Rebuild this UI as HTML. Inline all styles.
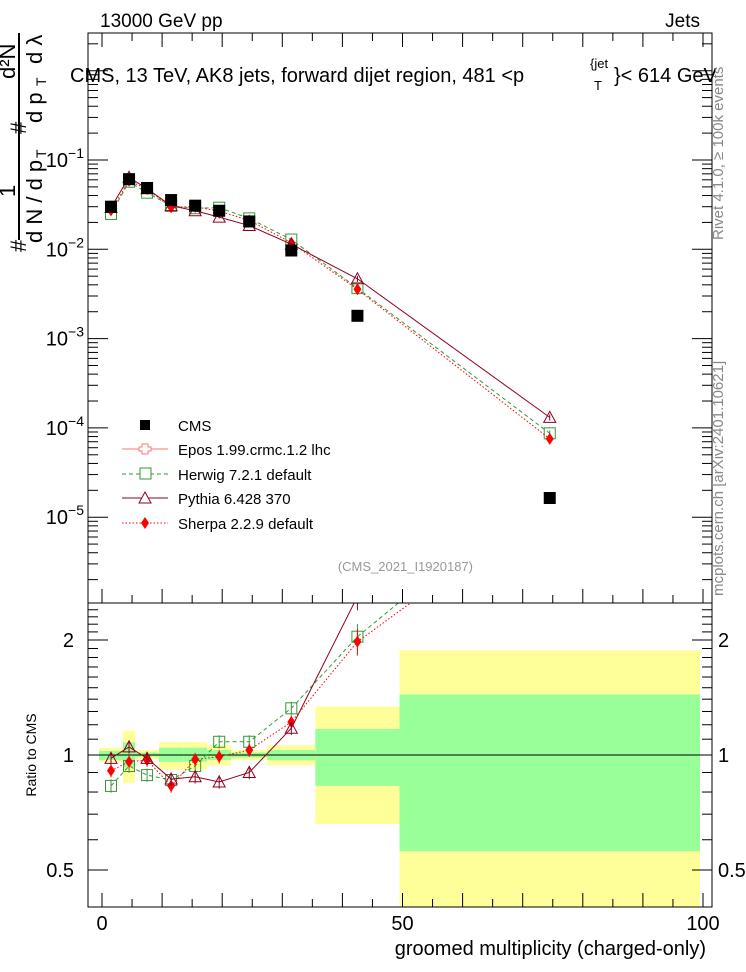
<!DOCTYPE html>
<html><head><meta charset="utf-8"><style>
html,body{margin:0;padding:0;background:#fff;}
svg{display:block;font-family:"Liberation Sans",sans-serif;}
</style></head><body>
<svg id="c" width="746" height="972" viewBox="0 0 746 972" xmlns="http://www.w3.org/2000/svg">
<defs>
<clipPath id="cm"><rect x="88" y="33" width="624" height="570"/></clipPath>
<clipPath id="cr"><rect x="88" y="603" width="624" height="304"/></clipPath>
</defs>
<text x="100" y="27" font-size="19">13000 GeV pp</text>
<text x="700" y="27" font-size="19" text-anchor="end">Jets</text>
<g id="bands"></g>
<g id="main"></g>
<g id="ratio"></g>
<rect x="88" y="33" width="624" height="570" fill="none" stroke="#000" stroke-width="1"/>
<rect x="88" y="603" width="624" height="304" fill="none" stroke="#000" stroke-width="1"/>
<g id="axes"></g>
<text x="70" y="82" font-size="20">CMS, 13 TeV, AK8 jets, forward dijet region, 481 &lt;p</text>
<text x="590" y="68" font-size="13">{jet</text>
<text x="594" y="90" font-size="13">T</text>
<text x="614" y="82" font-size="20">}&lt; 614 GeV</text>
<g font-size="22">
<line x1="19" y1="240" x2="19" y2="33" stroke="#000" stroke-width="2"/>
<text transform="translate(26,252) rotate(-90)">#</text>
<text transform="translate(15,197) rotate(-90)">1</text>
<text transform="translate(42,243) rotate(-90)">d N / d p</text>
<text transform="translate(46,158) rotate(-90)" font-size="14">T</text>
<text transform="translate(26,134) rotate(-90)">#</text>
<text transform="translate(15,79) rotate(-90)">d²N</text>
<text transform="translate(42,123) rotate(-90)">d p</text>
<text transform="translate(46,86) rotate(-90)" font-size="14">T</text>
<text transform="translate(42,64) rotate(-90)">d λ</text>
</g>
<text transform="translate(36,755) rotate(-90)" font-size="14" text-anchor="middle">Ratio to CMS</text>
<text x="706" y="955" font-size="20" text-anchor="end">groomed multiplicity (charged-only)</text>
<text transform="translate(723,240) rotate(-90)" font-size="15" fill="#888">Rivet 4.1.0, ≥ 100k events</text>
<text transform="translate(723,596) rotate(-90)" font-size="15" fill="#888">mcplots.cern.ch [arXiv:2401.10621]</text>
<g font-size="15">
<rect x="140" y="420" width="10" height="10" fill="#000"/>
<text x="178" y="431">CMS</text>
<line x1="122" y1="449" x2="168" y2="449" stroke="#f77"/>
<path d="M142,444h6v3h3v4h-3v3h-6v-3h-3v-4h3z" fill="#fff" stroke="#f77"/>
<text x="178" y="455">Epos 1.99.crmc.1.2 lhc</text>
<line x1="122" y1="474" x2="168" y2="474" stroke="#393" stroke-dasharray="4,3"/>
<rect x="140" y="468" width="11" height="11" fill="#fff" stroke="#393"/>
<text x="178" y="480">Herwig 7.2.1 default</text>
<line x1="122" y1="498" x2="168" y2="498" stroke="#900020"/>
<path d="M145,492 L151,503 L139,503 Z" fill="#fff" stroke="#900020"/>
<text x="178" y="504">Pythia 6.428 370</text>
<line x1="122" y1="523" x2="168" y2="523" stroke="#f00" stroke-dasharray="1.5,2"/>
<path d="M145,517 L149,523 L145,529 L141,523 Z" fill="#f00"/>
<text x="178" y="529">Sherpa 2.2.9 default</text>
</g>
<text x="473" y="571" font-size="13" fill="#999" text-anchor="end">(CMS_2021_I1920187)</text>
</svg>
<script>
const xCenters = [1.5,4.5,7.5,11.5,15.5,19.5,24.5,31.5,42.5,74.5];
const binEdges = [-0.5,3.5,5.5,9.5,13.5,17.5,21.5,27.5,35.5,49.5,99.5];
const cmsValues = [0.030,0.061,0.0486,0.0356,0.0308,0.027,0.0205,0.0097,0.0018,1.64e-5];
const herwigRatio = [0.83,0.936,0.886,0.86,0.936,1.083,1.083,1.325,2.04,5.3];
const pythiaRatio = [0.98,1.05,0.98,0.865,0.877,0.85,0.90,1.175,2.6,8.0];
const sherpaRatio = [0.91,0.96,0.97,0.83,0.974,0.99,1.03,1.22,1.98,4.6];
const yellowHi = [1.045,1.16,1.03,1.08,1.08,1.06,1.03,1.06,1.34,1.88];
const yellowLo = [0.96,0.845,0.975,0.917,0.917,0.94,0.97,0.94,0.66,0.35];
const greenHi = [1.025,1.08,1.015,1.045,1.045,1.03,1.015,1.03,1.17,1.44];
const greenLo = [0.97,0.93,0.99,0.96,0.96,0.97,0.985,0.97,0.83,0.56];
const xTickLabels = [0,50,100];
const mainTickExp = [-5,-4,-3,-2,-1];
const ratioTickLabels = [0.5,1,2];

const NS="http://www.w3.org/2000/svg";
function xs(v){return 102+v*6.01;}
function ym(v){return 160-(Math.log10(v)+1)*89.3;}
function yr(v){return 755-Math.log2(v)*115;}
function mk(tag,attrs,parent){const e=document.createElementNS(NS,tag);for(const k in attrs)e.setAttribute(k,attrs[k]);parent.appendChild(e);return e;}
const bands=document.getElementById('bands'),main=document.getElementById('main'),ratio=document.getElementById('ratio'),axes=document.getElementById('axes');
bands.setAttribute('clip-path','url(#cr)');
for(let i=0;i<xCenters.length;i++){
  const x0=xs(binEdges[i]),x1=xs(binEdges[i+1]);
  let r=mk('rect',{x:x0,y:yr(yellowHi[i]),width:x1-x0,height:yr(yellowLo[i])-yr(yellowHi[i]),fill:'#ffff99'},bands);
  
  
  r=mk('rect',{x:x0,y:yr(greenHi[i]),width:x1-x0,height:yr(greenLo[i])-yr(greenHi[i]),fill:'#99ff99'},bands);
  
  
}
mk('line',{x1:88,x2:712,y1:yr(1),y2:yr(1),stroke:'#000'},bands);
const series=[
 {name:'herwig',ratio:herwigRatio,color:'#339933',dash:'4,3',marker:'sq'},
 {name:'sherpa',ratio:sherpaRatio,color:'#ff0000',dash:'1.5,2',marker:'dia'},
 {name:'pythia',ratio:pythiaRatio,color:'#900020',dash:'',marker:'tri'}
];
function marker(g,type,x,y,c){
  let e;
  if(type==='sq')e=mk('rect',{x:x-5.5,y:y-5.5,width:11,height:11,fill:'none',stroke:c},g);
  else if(type==='tri')e=mk('path',{d:`M${x},${y-6}L${x+6},${y+5}L${x-6},${y+5}Z`,fill:'none',stroke:c},g);
  else e=mk('path',{d:`M${x},${y-6}L${x+4},${y}L${x},${y+6}L${x-4},${y}Z`,fill:c},g);
  return e;
}
function drawSeries(parent,clip,yf,valf,s,panel){
  const g=mk('g',{'clip-path':clip},parent);
  
  
  const pts=xCenters.map((x,i)=>[xs(x),yf(valf(i))]);
  const p=mk('polyline',{points:pts.map(p=>p.join(',')).join(' '),fill:'none',stroke:s.color,'stroke-width':1},g);
  if(s.dash)p.setAttribute('stroke-dasharray',s.dash);
  pts.forEach((pt,i)=>{
    const v=valf(i),e=i>=8?0.08:0.04;
    mk('line',{x1:pt[0],x2:pt[0],y1:yf(v*(1+e)),y2:yf(v*(1-e)),stroke:s.color},g);
    const m=marker(g,s.marker,pt[0],pt[1],s.color);
    
    
  });
}
series.forEach(s=>{
  drawSeries(main,'url(#cm)',ym,i=>cmsValues[i]*s.ratio[i],s,'main');
  drawSeries(ratio,'url(#cr)',yr,i=>s.ratio[i],s,'ratio');
});
xCenters.forEach((x,i)=>{
  const r=mk('rect',{x:xs(x)-6,y:ym(cmsValues[i])-6,width:12,height:12,fill:'#000'},main);
  
  
});
for(let v=0;v<=100;v+=5){
  const x=xs(v),L=(v%10===0)?14:8;
  mk('line',{x1:x,x2:x,y1:907,y2:907-L,stroke:'#000'},axes);
  mk('line',{x1:x,x2:x,y1:603,y2:603-L,stroke:'#000'},axes);
  mk('line',{x1:x,x2:x,y1:33,y2:33+L,stroke:'#000'},axes);
}
xTickLabels.forEach(v=>{
  const t=mk('text',{x:xs(v),y:930,'font-size':20,'text-anchor':'middle'},axes);
  t.textContent=v;
  
  
});
for(let e=-6;e<=0;e++){for(let m=1;m<=9;m++){
  const y=ym(m*Math.pow(10,e));if(y<33||y>603)continue;
  const L=m===1?20:10;
  mk('line',{x1:88,x2:88+L,y1:y,y2:y,stroke:'#000'},axes);
  mk('line',{x1:712,x2:712-L,y1:y,y2:y,stroke:'#000'},axes);
}}
mainTickExp.forEach(e=>{
  const t=mk('text',{x:84,y:ym(Math.pow(10,e))+7,'font-size':20,'text-anchor':'end'},axes);
  t.textContent='10';
  const s=mk('tspan',{dy:-9,'font-size':14},t);s.textContent='−'+(-e);
  
  
});
[0.5,0.6,0.7,0.8,0.9,1,1.1,1.2,1.3,1.4,1.5,1.6,1.7,1.8,1.9,2,2.1,2.2,2.3,2.4].forEach(v=>{
  const y=yr(v),L=(v===0.5||v===1||v===2)?20:10;
  mk('line',{x1:88,x2:88+L,y1:y,y2:y,stroke:'#000'},axes);
  mk('line',{x1:712,x2:712-L,y1:y,y2:y,stroke:'#000'},axes);
});
ratioTickLabels.forEach(v=>{
  let t=mk('text',{x:74,y:yr(v)+7,'font-size':20,'text-anchor':'end'},axes);t.textContent=v;
  
  
  t=mk('text',{x:718,y:yr(v)+7,'font-size':20},axes);t.textContent=v;
  
  
});
</script>
</body></html>
